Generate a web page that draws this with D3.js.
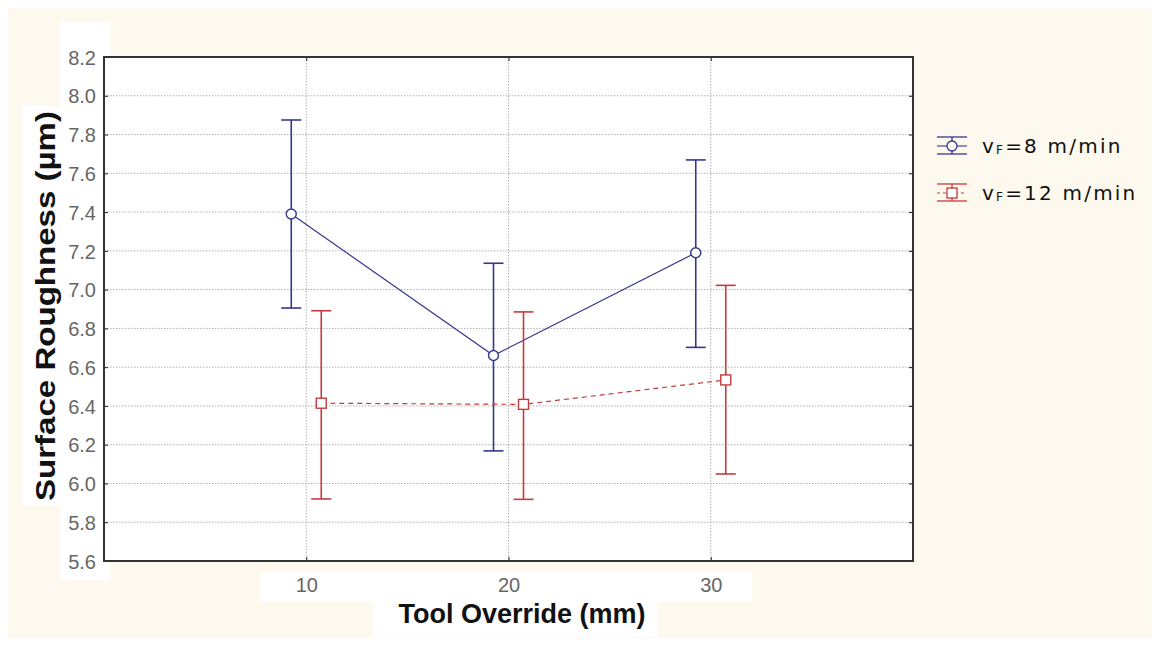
<!DOCTYPE html>
<html>
<head>
<meta charset="utf-8">
<script src="https://cdn.jsdelivr.net/npm/d3@7/dist/d3.min.js"></script>
<style>
  html, body { margin: 0; padding: 0; background: #ffffff; }
  svg { display: block; }
</style>
</head>
<body>
<svg id="chart" width="1159" height="647"></svg>
<script>
// ---- data ----
const categories = [10, 20, 30];
const xTicks = [10, 20, 30];
const yTicks = [5.6, 5.8, 6.0, 6.2, 6.4, 6.6, 6.8, 7.0, 7.2, 7.4, 7.6, 7.8, 8.0, 8.2];

const series1Name = "8 m/min";
const series1Mean  = [7.39, 6.66, 7.19];
const series1Upper = [7.875, 7.136, 7.669];
const series1Lower = [6.905, 6.168, 6.702];

const series2Name = "12 m/min";
const series2Mean  = [6.414, 6.408, 6.534];
const series2Upper = [6.891, 6.885, 7.022];
const series2Lower = [5.92, 5.918, 6.049];

// ---- layout ----
const W = 1159, H = 647;
const plot = { left: 104, right: 913, top: 57, bottom: 561 };
const blue = "#36368f";
const red = "#c63b3b";
const cream = "#fdf9ee";

const svg = d3.select("#chart");

// background
svg.append("rect").attr("x", 0).attr("y", 0).attr("width", W).attr("height", H).attr("fill", "#ffffff");
svg.append("rect").attr("x", 8).attr("y", 8).attr("width", 1144).attr("height", 630).attr("fill", cream);
// white label patches
svg.append("rect").attr("x", 60).attr("y", 22).attr("width", 50).attr("height", 558).attr("fill", "#ffffff");
svg.append("rect").attr("x", 22).attr("y", 106).attr("width", 40).attr("height", 400).attr("fill", "#ffffff");
svg.append("rect").attr("x", 260).attr("y", 572).attr("width", 492).attr("height", 30).attr("fill", "#ffffff");
svg.append("rect").attr("x", 373).attr("y", 601).attr("width", 284).attr("height", 36).attr("fill", "#ffffff");

const x = d3.scaleLinear().domain([0, 40]).range([plot.left, plot.right]);
const y = d3.scaleLinear().domain([5.6, 8.2]).range([plot.bottom, plot.top]);

// plot background
svg.append("rect")
  .attr("x", plot.left).attr("y", plot.top)
  .attr("width", plot.right - plot.left).attr("height", plot.bottom - plot.top)
  .attr("fill", "#ffffff");

// gridlines
const grid = svg.append("g");
grid.selectAll("line.hg").data(yTicks.slice(1, -1)).enter().append("line")
  .attr("x1", plot.left).attr("x2", plot.right)
  .attr("y1", d => y(d)).attr("y2", d => y(d))
  .attr("stroke", "#b0b0b0").attr("stroke-width", 1).attr("stroke-dasharray", "1.5,1.5");
grid.selectAll("line.vg").data(xTicks).enter().append("line")
  .attr("x1", d => x(d)).attr("x2", d => x(d))
  .attr("y1", plot.top).attr("y2", plot.bottom)
  .attr("stroke", "#b0b0b0").attr("stroke-width", 1).attr("stroke-dasharray", "1.5,1.5");

const tickFont = "Liberation Sans, Arial, sans-serif";

// axes (ticks inside)
const yAxis = d3.axisLeft(y).tickValues(yTicks).tickFormat(d3.format(".1f")).tickSizeInner(-4).tickSizeOuter(0).tickPadding(8);
const gy = svg.append("g").attr("transform", `translate(${plot.left},0)`).call(yAxis);
gy.select(".domain").remove();
gy.selectAll("line").attr("stroke", "#222");
gy.selectAll("text").attr("font-family", tickFont).attr("font-size", 20).attr("fill", "#666").attr("dy", "0.36em");

const yAxisR = d3.axisRight(y).tickValues(yTicks).tickFormat("").tickSizeInner(-4).tickSizeOuter(0);
const gyr = svg.append("g").attr("transform", `translate(${plot.right},0)`).call(yAxisR);
gyr.select(".domain").remove();
gyr.selectAll("line").attr("stroke", "#222");

const xAxis = d3.axisBottom(x).tickValues(xTicks).tickFormat(d3.format("d")).tickSizeInner(-4).tickSizeOuter(0).tickPadding(17);
const gx = svg.append("g").attr("transform", `translate(0,${plot.bottom})`).call(xAxis);
gx.select(".domain").remove();
gx.selectAll("line").attr("stroke", "#222");
gx.selectAll("text").attr("font-family", tickFont).attr("font-size", 20).attr("fill", "#666");

const xAxisT = d3.axisTop(x).tickValues(xTicks).tickFormat("").tickSizeInner(-4).tickSizeOuter(0);
const gxt = svg.append("g").attr("transform", `translate(0,${plot.top})`).call(xAxisT);
gxt.select(".domain").remove();
gxt.selectAll("line").attr("stroke", "#222");

// plot frame
svg.append("rect")
  .attr("x", plot.left).attr("y", plot.top)
  .attr("width", plot.right - plot.left).attr("height", plot.bottom - plot.top)
  .attr("fill", "none").attr("stroke", "#333").attr("stroke-width", 2);

// series drawing
function drawSeries(mean, upper, lower, color, offset, dash, shape) {
  const g = svg.append("g");
  const pts = categories.map((c, i) => ({ c, m: mean[i], u: upper[i], l: lower[i] }));
  const line = d3.line().x(d => x(d.c) + offset).y(d => y(d.m));
  g.append("path").datum(pts).attr("d", line)
    .attr("fill", "none").attr("stroke", color).attr("stroke-width", 1.2)
    .attr("stroke-dasharray", dash);
  const eb = g.selectAll("g.eb").data(pts).enter().append("g");
  eb.append("line").attr("x1", d => x(d.c) + offset).attr("x2", d => x(d.c) + offset)
    .attr("y1", d => y(d.u)).attr("y2", d => y(d.l))
    .attr("stroke", color).attr("stroke-width", 1.6);
  ["u", "l"].forEach(k => {
    eb.append("line").attr("x1", d => x(d.c) + offset - 10).attr("x2", d => x(d.c) + offset + 10)
      .attr("y1", d => y(d[k])).attr("y2", d => y(d[k]))
      .attr("stroke", color).attr("stroke-width", 1.6);
  });
  if (shape === "circle") {
    eb.append("circle").attr("cx", d => x(d.c) + offset).attr("cy", d => y(d.m)).attr("r", 5)
      .attr("fill", "#fff").attr("stroke", color).attr("stroke-width", 1.4);
  } else {
    eb.append("rect").attr("x", d => x(d.c) + offset - 5).attr("y", d => y(d.m) - 5)
      .attr("width", 10).attr("height", 10)
      .attr("fill", "#fff").attr("stroke", color).attr("stroke-width", 1.4);
  }
}
drawSeries(series1Mean, series1Upper, series1Lower, blue, -15, null, "circle");
drawSeries(series2Mean, series2Upper, series2Lower, red, 15, "5,4", "square");

// axis titles
svg.append("text")
  .attr("transform", `translate(55,306) rotate(-90)`)
  .attr("text-anchor", "middle")
  .attr("font-family", "Liberation Sans, Arial, sans-serif").attr("font-weight", "bold").attr("font-size", 27)
  .attr("fill", "#111")
  .attr("textLength", 390).attr("lengthAdjust", "spacingAndGlyphs")
  .text("Surface Roughness (µm)");
svg.append("text")
  .attr("x", 522).attr("y", 623)
  .attr("text-anchor", "middle")
  .attr("font-family", "Liberation Sans, Arial, sans-serif").attr("font-weight", "bold").attr("font-size", 27)
  .attr("fill", "#111")
  .text("Tool Override (mm)");

// legend
const legendItems = [
  { name: series1Name, color: blue, dash: null, shape: "circle" },
  { name: series2Name, color: red, dash: "3,3", shape: "square" }
];
const lg = svg.selectAll("g.leg").data(legendItems).enter().append("g")
  .attr("transform", (d, i) => `translate(952,${146 + i * 47})`);
lg.append("line").attr("x1", -15).attr("x2", 15).attr("y1", -9).attr("y2", -9)
  .attr("stroke", d => d.color).attr("stroke-width", 1.3);
lg.append("line").attr("x1", -15).attr("x2", 15).attr("y1", 8).attr("y2", 8)
  .attr("stroke", d => d.color).attr("stroke-width", 1.3);
lg.append("line").attr("x1", 0).attr("x2", 0).attr("y1", -9).attr("y2", 8)
  .attr("stroke", d => d.color).attr("stroke-width", 1.3);
lg.append("line").attr("x1", -15).attr("x2", 15).attr("y1", 0).attr("y2", 0)
  .attr("stroke", d => d.color).attr("stroke-width", 1.1).attr("stroke-dasharray", d => d.dash);
lg.each(function (d) {
  const g = d3.select(this);
  if (d.shape === "circle") {
    g.append("circle").attr("r", 5).attr("fill", "#fff").attr("stroke", d.color).attr("stroke-width", 1.3);
  } else {
    g.append("rect").attr("x", -5).attr("y", -5).attr("width", 10).attr("height", 10)
      .attr("fill", "#fff").attr("stroke", d.color).attr("stroke-width", 1.3);
  }
});
const lt = lg.append("text").attr("x", 30).attr("y", 7)
  .attr("font-family", "DejaVu Sans, Verdana, sans-serif").attr("font-size", 20).attr("fill", "#111")
  .attr("letter-spacing", 2.2);
lt.append("tspan").text("v");
lt.append("tspan").attr("font-size", 12).attr("dy", 1).text("F");
lt.append("tspan").attr("dy", -1).text(d => "=" + d.name);
</script>
</body>
</html>
